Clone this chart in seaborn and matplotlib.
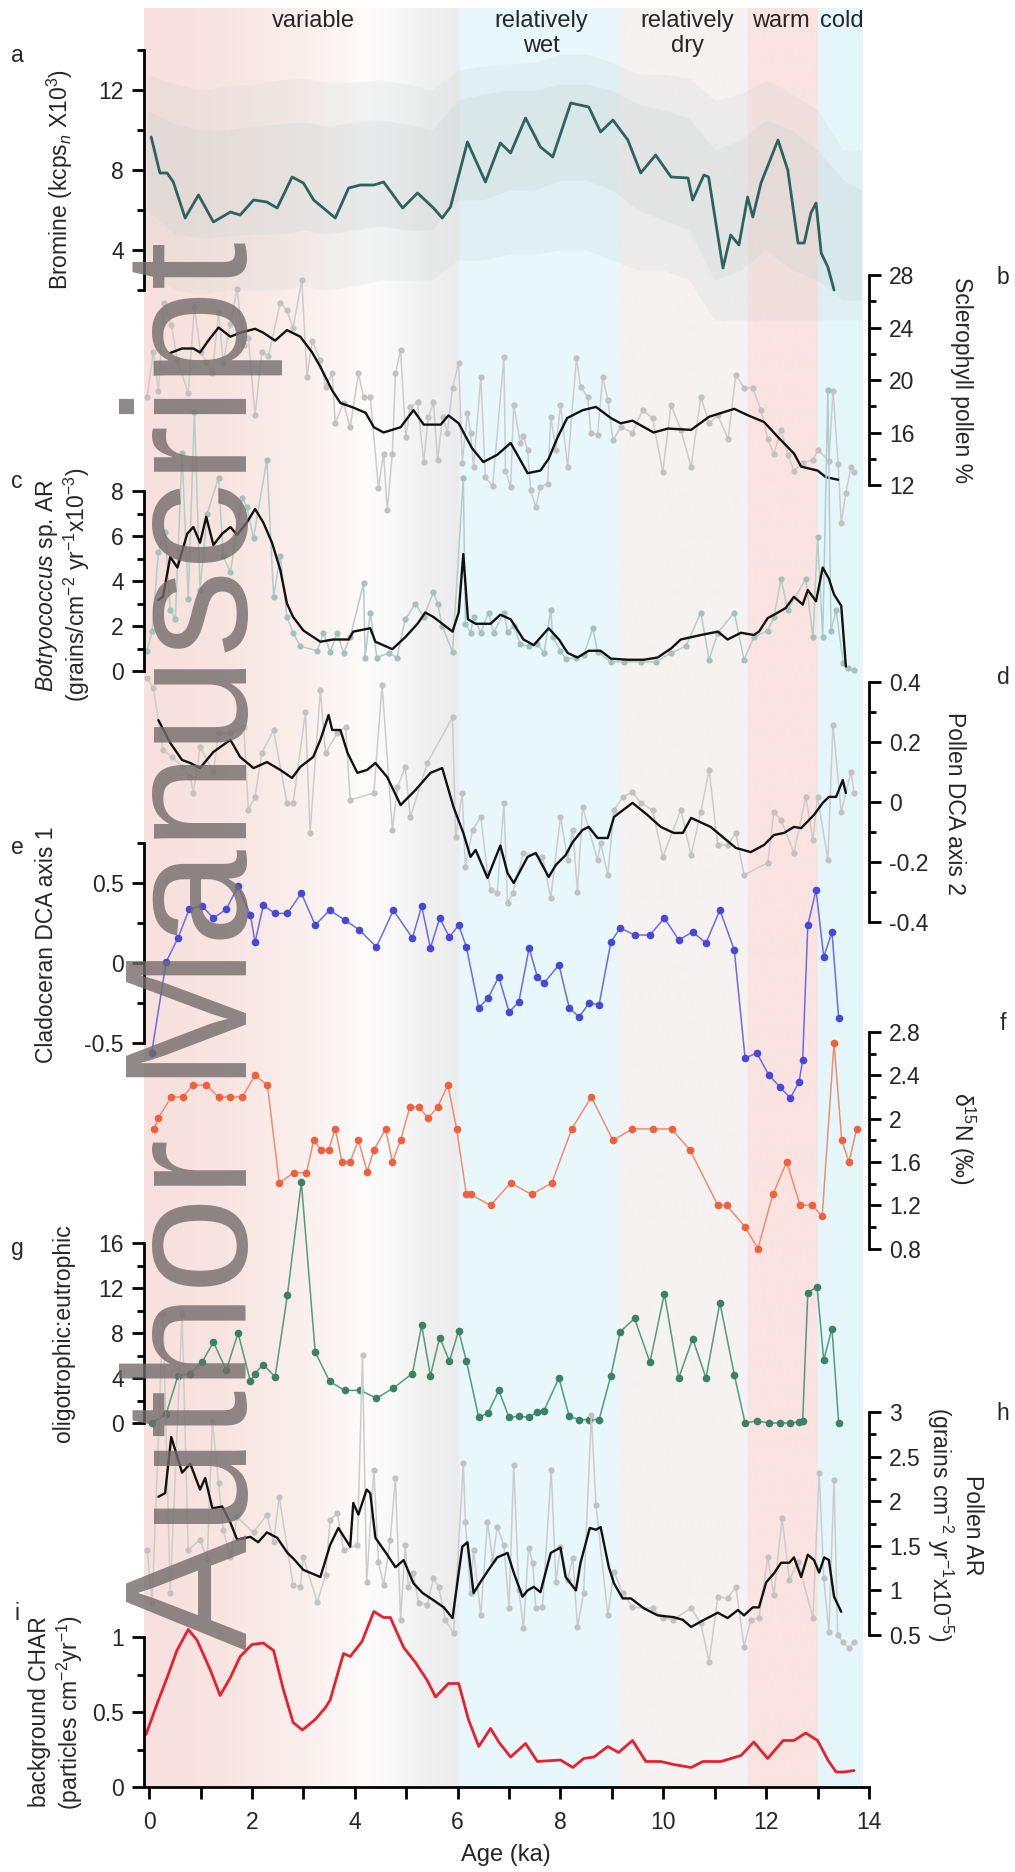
import numpy as np
import seaborn as sns
import matplotlib.pyplot as plt

sns.set_theme(style="white")
plt.rcParams['font.family'] = ['Liberation Sans', 'DejaVu Sans']
plt.rcParams['mathtext.fontset'] = 'custom'
plt.rcParams['mathtext.rm'] = 'Liberation Sans'
plt.rcParams['mathtext.it'] = 'Liberation Sans:italic'

# ---------------- data (age in ka) ----------------
bromine_age = [0.04, 0.21, 0.35, 0.47, 0.70, 0.96, 1.25, 1.58, 1.77, 2.03, 2.29, 2.49, 2.78, 3.0, 3.2, 3.62,
               3.88, 4.11, 4.37, 4.56, 4.93, 5.22, 5.53, 5.70, 5.86, 6.19, 6.54, 6.83, 7.03, 7.32, 7.61, 7.85,
               8.2, 8.55, 8.78, 9.02, 9.31, 9.56, 9.85, 10.15, 10.48, 10.57, 10.79, 10.88, 11.16, 11.31, 11.47,
               11.64, 11.74, 11.9, 12.23, 12.42, 12.62, 12.74, 12.87, 12.97, 13.07, 13.2, 13.32]
bromine = [9.65, 7.85, 7.85, 7.4, 5.6, 6.75, 5.4, 5.9, 5.75, 6.5, 6.4, 6.1, 7.65, 7.35, 6.5, 5.6,
           7.1, 7.25, 7.25, 7.4, 6.1, 6.85, 6.1, 5.6, 6.15, 9.4, 7.4, 9.35, 8.85, 10.6, 9.15, 8.65,
           11.35, 11.15, 9.9, 10.5, 9.5, 7.85, 8.75, 7.65, 7.6, 6.5, 7.75, 7.65, 3.1, 4.75, 4.25,
           6.65, 5.65, 7.35, 9.5, 8.0, 4.35, 4.35, 5.85, 6.35, 3.85, 3.15, 2.0]
# raw bromine scan: outer and inner envelopes of the noisy record
bromine_raw_age = [-0.05, 0.5, 1, 1.5, 2, 2.5, 3, 3.5, 4, 4.5, 5, 5.5, 6, 6.5, 7, 7.5, 8, 8.5, 9, 9.5,
                   10, 10.5, 11, 11.5, 12, 12.5, 13, 13.5, 13.85]
bromine_raw_hi = [12.8, 12.3, 12.0, 12.2, 12.3, 12.5, 12.6, 12.4, 12.4, 12.5, 12.3, 12.0, 13.0, 13.2, 13.3,
                  13.4, 13.8, 13.8, 13.4, 12.8, 12.8, 12.6, 11.5, 11.8, 12.5, 11.8, 11.0, 9.0, 9.0]
bromine_raw_lo = [3.0, 2.0, 1.8, 2.0, 2.0, 2.0, 2.2, 2.0, 2.2, 2.5, 2.5, 2.5, 3.5, 3.5, 3.8, 3.8, 4.0, 4.0,
                  3.5, 3.0, 3.0, 2.5, 0.5, 0.5, 0.5, 0.5, 0.5, 0.5, 0.5]
bromine_core_hi = [11.0, 10.3, 10.0, 10.0, 10.2, 10.3, 10.4, 10.2, 10.4, 10.5, 10.3, 10.0, 11.5, 11.8, 12.0,
                   12.0, 12.3, 12.3, 12.0, 11.3, 11.0, 10.6, 9.0, 9.5, 10.5, 10.0, 9.0, 7.5, 7.0]
bromine_core_lo = [6.0, 4.8, 4.6, 4.7, 4.8, 4.8, 5.0, 4.8, 5.0, 5.2, 5.0, 5.0, 6.5, 6.5, 7.0, 7.0, 7.5, 7.5,
                   7.0, 6.0, 5.5, 5.0, 2.5, 3.0, 4.0, 3.0, 2.5, 1.5, 1.5]

scler_age = [0.41, 0.64, 0.86, 0.99, 1.15, 1.35, 1.58, 1.77, 2.06, 2.22, 2.45, 2.68, 2.94, 3.17, 3.33, 3.56,
             3.72, 3.97, 4.21, 4.37, 4.56, 4.89, 5.14, 5.34, 5.67, 5.82, 6.02, 6.28, 6.5, 6.77, 7.03, 7.19,
             7.36, 7.61, 7.77, 7.94, 8.13, 8.43, 8.69, 8.98, 9.17, 9.4, 9.81, 10.09, 10.54, 10.89, 11.38,
             11.65, 11.96, 12.23, 12.54, 12.68, 13.0, 13.16, 13.4]
scler = [22.06, 22.4, 22.4, 22.1, 23.0, 24.0, 23.3, 23.6, 23.9, 23.6, 23.0, 23.8, 23.3, 22.1, 21.0, 19.2,
         18.25, 17.9, 17.5, 16.4, 16.0, 16.4, 17.7, 16.6, 16.6, 17.3, 16.7, 14.8, 13.75, 14.3, 15.2, 14.1,
         12.9, 13.1, 14.0, 15.6, 17.1, 17.7, 17.95, 17.1, 16.7, 16.9, 16.0, 16.3, 16.2, 17.2, 17.8,
         17.3, 16.8, 15.65, 14.4, 13.4, 13.1, 12.6, 12.4]
scler_raw_age = [-0.04, 0.08, 0.18, 0.29, 0.43, 0.55, 0.76, 0.88, 1.0, 1.11, 1.23, 1.35, 1.44, 1.58, 1.71,
                 1.84, 1.93, 2.06, 2.19, 2.32, 2.55, 2.68, 2.8, 2.97, 3.07, 3.17, 3.33, 3.43, 3.56, 3.62,
                 3.78, 3.91, 4.07, 4.17, 4.3, 4.46, 4.56, 4.63, 4.73, 4.79, 4.89, 4.99, 5.08, 5.22, 5.34,
                 5.43, 5.53, 5.61, 5.71, 5.8, 5.9, 6.02, 6.09, 6.19, 6.25, 6.31, 6.45, 6.54, 6.68, 6.9,
                 6.93, 7.03, 7.09, 7.22, 7.28, 7.36, 7.42, 7.52, 7.61, 7.75, 7.81, 7.91, 8.0, 8.14, 8.31,
                 8.39, 8.53, 8.59, 8.72, 8.82, 8.92, 9.02, 9.17, 9.4, 9.6, 9.79, 9.99, 10.15, 10.34, 10.54,
                 10.73, 10.89, 11.06, 11.26, 11.41, 11.57, 11.74, 11.9, 12.03, 12.15, 12.29, 12.42, 12.54,
                 12.72, 12.91, 13.01, 13.22, 13.3, 13.4, 13.46, 13.55, 13.65, 13.71]
scler_raw = [18.7, 22.1, 19.2, 25.9, 24.2, 21.5, 19.0, 25.6, 22.1, 21.4, 20.5, 25.2, 21.3, 24.3, 26.9,
             22.7, 23.2, 17.3, 22.1, 21.8, 25.9, 25.3, 24.0, 27.6, 20.2, 23.0, 21.5, 19.5, 20.5, 16.7,
             18.25, 16.4, 20.5, 18.7, 18.7, 11.8, 14.4, 10.1, 14.4, 20.5, 22.3, 15.65, 17.95, 18.3, 13.75,
             17.2, 18.3, 13.9, 17.2, 16.0, 19.4, 21.3, 13.7, 17.5, 16.0, 13.4, 20.2, 12.6, 11.9, 21.75,
             13.1, 11.85, 18.1, 15.2, 15.7, 14.7, 11.6, 10.3, 11.85, 12.1, 17.2, 14.7, 18.1, 13.4, 21.7,
             19.5, 18.7, 16.0, 15.8, 20.2, 18.5, 15.4, 16.4, 16.0, 17.7, 17.1, 13.0, 18.1, 16.2, 13.4,
             18.7, 16.7, 17.3, 15.5, 20.4, 19.4, 19.4, 17.7, 15.5, 14.4, 16.2, 14.3, 13.1,
             13.7, 13.9, 14.7, 13.8, 19.2, 13.6, 9.1, 11.4, 13.4, 13.0]

botryo_age = [0.18, 0.27, 0.41, 0.55, 0.74, 0.86, 0.99, 1.11, 1.25, 1.42, 1.58, 1.71, 1.9, 2.06, 2.22, 2.39,
              2.55, 2.68, 2.8, 3.0, 3.33, 3.58, 3.88, 3.97, 4.3, 4.4, 4.73, 4.98, 5.22, 5.37, 5.53, 5.9,
              6.02, 6.11, 6.2, 6.35, 6.64, 6.83, 7.03, 7.28, 7.48, 7.77, 7.97, 8.14, 8.33, 8.55, 8.78,
              8.98, 9.31, 9.62, 9.89, 10.15, 10.34, 10.73, 11.06, 11.25, 11.51, 11.76, 11.86, 12.03,
              12.23, 12.38, 12.54, 12.71, 12.81, 12.97, 13.1, 13.22, 13.32, 13.46, 13.55]
botryo = [3.16, 3.3, 5.07, 4.6, 6.1, 6.4, 5.7, 6.85, 5.6, 6.1, 6.4, 6.05, 6.6, 7.2, 6.6, 5.7,
          4.5, 3.0, 2.4, 1.8, 1.3, 1.4, 1.4, 1.75, 1.9, 1.3, 0.97, 1.5, 2.1, 2.6, 2.4, 1.75,
          2.6, 5.2, 2.3, 2.1, 2.1, 2.5, 2.3, 1.4, 1.15, 1.9, 1.4, 0.8, 0.6, 0.9, 0.9,
          0.55, 0.5, 0.5, 0.6, 1.0, 1.4, 1.6, 1.75, 1.4, 1.7, 1.6, 1.75, 2.35,
          2.6, 2.8, 3.3, 2.95, 3.6, 3.1, 4.6, 4.1, 3.4, 2.9, 0.2]
botryo_raw_age = [-0.04, 0.06, 0.18, 0.31, 0.41, 0.51, 0.64, 0.76, 0.88, 0.99, 1.13, 1.35, 1.44, 1.58, 1.81,
                  1.9, 2.03, 2.29, 2.42, 2.55, 2.68, 2.8, 2.94, 3.27, 3.39, 3.52, 3.66, 3.78, 3.91, 4.17,
                  4.2, 4.3, 4.43, 4.66, 4.82, 4.98, 5.18, 5.34, 5.53, 5.61, 5.7, 5.9, 6.11, 6.15, 6.25,
                  6.31, 6.45, 6.6, 6.7, 6.9, 6.97, 7.09, 7.22, 7.38, 7.55, 7.68, 7.81, 7.85, 8.0, 8.1,
                  8.3, 8.45, 8.63, 8.72, 8.98, 9.23, 9.56, 9.85, 10.15, 10.44, 10.73, 10.89, 11.06,
                  11.38, 11.57, 11.76, 12.03, 12.15, 12.29, 12.42, 12.77, 12.91, 13.0, 13.1, 13.2,
                  13.26, 13.36, 13.5, 13.6, 13.7]
botryo_raw = [0.9, 1.8, 5.3, 6.2, 2.7, 2.3, 9.7, 3.2, 11.5, 3.6, 7.0, 8.6, 5.1, 4.4, 7.7,
              7.3, 5.9, 9.4, 3.3, 5.1, 2.4, 1.7, 1.1, 0.9, 1.7, 0.85, 1.7, 0.8, 1.5, 3.9,
              0.6, 2.6, 0.6, 0.8, 0.6, 2.3, 3.0, 2.4, 3.5, 3.0, 2.0, 0.85, 8.6, 2.1, 1.7,
              2.4, 1.7, 2.6, 1.7, 2.6, 1.75, 2.0, 1.2, 1.1, 1.2, 0.8, 2.7, 1.5, 0.9, 0.55,
              0.6, 0.7, 1.9, 0.85, 0.4, 0.4, 0.4, 0.4, 0.8, 1.1, 2.6, 0.5, 1.7,
              2.6, 0.5, 1.5, 1.8, 2.4, 4.1, 2.7, 4.1, 1.5, 5.95, 1.5, 12.5,
              1.8, 2.7, 0.35, 0.15, 0.05]

dca2_age = [0.18, 0.41, 0.64, 0.8, 0.99, 1.25, 1.58, 1.77, 2.03, 2.29, 2.55, 2.78, 2.94, 3.19, 3.33, 3.49,
            3.56, 3.72, 3.86, 4.05, 4.24, 4.4, 4.63, 4.89, 5.18, 5.47, 5.7, 5.92, 6.11, 6.25, 6.35, 6.58,
            6.83, 6.97, 7.09, 7.36, 7.52, 7.77, 7.91, 8.1, 8.24, 8.43, 8.55, 8.72, 8.92, 9.04, 9.4,
            9.69, 9.95, 10.2, 10.38, 10.54, 10.92, 11.41, 11.7, 11.96, 12.15, 12.35, 12.54, 12.68,
            12.93, 13.1, 13.22, 13.36, 13.49, 13.55]
dca2 = [0.273, 0.197, 0.14, 0.13, 0.113, 0.167, 0.207, 0.15, 0.113, 0.133, 0.107, 0.08, 0.117, 0.15, 0.207,
        0.29, 0.24, 0.24, 0.163, 0.097, 0.107, 0.13, 0.083, -0.01, 0.04, 0.097, 0.113, -0.017, -0.103,
        -0.183, -0.16, -0.253, -0.145, -0.237, -0.27, -0.183, -0.17, -0.25, -0.21, -0.177, -0.133,
        -0.093, -0.083, -0.12, -0.12, -0.05, -0.003, -0.043, -0.083, -0.103, -0.103, -0.053, -0.083,
        -0.153, -0.167, -0.143, -0.11, -0.103, -0.083, -0.087, -0.043, -0.003, 0.017, 0.017, 0.073, 0.03]
dca2_raw_age = [-0.04, 0.08, 0.27, 0.45, 0.64, 0.8, 0.86, 0.99, 1.25, 1.35, 1.58, 1.84, 1.93, 2.06, 2.19,
                2.42, 2.68, 2.8, 3.04, 3.13, 3.33, 3.43, 3.66, 3.82, 3.91, 4.37, 4.53, 4.73, 4.83, 4.98,
                5.08, 5.41, 5.9, 5.96, 6.09, 6.15, 6.29, 6.45, 6.58, 6.64, 6.77, 6.9, 6.97, 7.07, 7.28,
                7.65, 7.81, 8.0, 8.14, 8.24, 8.33, 8.43, 8.72, 8.78, 8.92, 9.04, 9.21, 9.4, 9.56, 9.79,
                9.99, 10.34, 10.54, 10.73, 10.89, 11.06, 11.25, 11.41, 11.57, 12.03, 12.15, 12.29,
                12.54, 12.77, 12.91, 13.0, 13.2, 13.3, 13.46, 13.65, 13.71]
dca2_raw = [0.413, 0.38, 0.173, 0.15, 0.117, 0.083, 0.03, 0.183, 0.1, 0.23, 0.23, 0.25, -0.027, 0.017, 0.163,
            0.24, -0.003, -0.003, 0.3, -0.103, 0.373, 0.163, 0.23, 0.25, 0.007, 0.03, 0.39, -0.093, 0.05,
            0.117, -0.05, 0.13, 0.283, -0.117, 0.03, -0.217, -0.093, -0.05, -0.237, -0.293, -0.303,
            -0.003, -0.337, -0.303, -0.17, -0.183, -0.32, -0.05, -0.193, -0.093, -0.3, -0.017, -0.193,
            -0.137, -0.243, -0.027, 0.017, 0.033, -0.003, -0.027, -0.183, -0.027, -0.177, -0.033, 0.107,
            -0.143, -0.143, -0.103, -0.243, -0.203, -0.033, -0.06, -0.17, 0.017, -0.127, 0.017, -0.193,
            0.257, -0.033, 0.1, 0.03]

clad_age = [0.05, 0.33, 0.56, 0.78, 1.03, 1.25, 1.5, 1.73, 1.97, 2.06, 2.22, 2.45, 2.69, 2.96, 3.23, 3.51,
            3.8, 4.09, 4.42, 4.75, 5.12, 5.3, 5.47, 5.65, 5.84, 6.02, 6.17, 6.41, 6.59, 6.8, 7.0, 7.19,
            7.39, 7.55, 7.68, 7.97, 8.17, 8.36, 8.56, 8.75, 8.98, 9.16, 9.44, 9.74, 10.02, 10.3, 10.57,
            10.83, 11.1, 11.38, 11.59, 11.82, 12.05, 12.27, 12.47, 12.64, 12.71, 12.81, 12.97, 13.12,
            13.28, 13.41]
clad = [-0.56, 0.006, 0.156, 0.337, 0.356, 0.28, 0.337, 0.48, 0.3, 0.13, 0.36, 0.31, 0.31, 0.437, 0.237, 0.33,
        0.27, 0.206, 0.1, 0.33, 0.156, 0.356, 0.094, 0.28, 0.162, 0.237, 0.1, -0.28, -0.22, -0.087, -0.306,
        -0.244, 0.094, -0.087, -0.125, -0.012, -0.28, -0.337, -0.25, -0.262, 0.131, 0.219, 0.175, 0.175,
        0.281, 0.144, 0.194, 0.125, 0.331, 0.081, -0.594, -0.563, -0.7, -0.775, -0.844, -0.744, -0.606,
        0.237, 0.456, 0.038, 0.194, -0.344]

d15n_age = [0.1, 0.18, 0.43, 0.65, 0.86, 1.11, 1.35, 1.58, 1.81, 2.06, 2.3, 2.53, 2.81, 3.06, 3.2, 3.35,
            3.49, 3.62, 3.75, 3.91, 4.07, 4.24, 4.37, 4.6, 4.73, 4.89, 5.07, 5.24, 5.43, 5.61, 5.81, 5.98,
            6.17, 6.25, 6.64, 7.03, 7.44, 7.83, 8.22, 8.6, 9.02, 9.4, 9.79, 10.16, 10.52, 11.06, 11.23,
            11.59, 11.84, 12.13, 12.4, 12.66, 12.89, 13.09, 13.32, 13.47, 13.61, 13.76]
d15n = [1.905, 2.006, 2.2, 2.2, 2.31, 2.31, 2.2, 2.2, 2.2, 2.4, 2.31, 1.406, 1.5, 1.5, 1.8, 1.71,
        1.71, 1.905, 1.6, 1.6, 1.8, 1.51, 1.71, 1.905, 1.6, 1.8, 2.107, 2.107, 2.006, 2.107, 2.31, 1.905,
        1.3, 1.3, 1.2, 1.406, 1.3, 1.406, 1.905, 2.2, 1.8, 1.905, 1.905, 1.905, 1.71, 1.2, 1.2,
        1.0, 0.8, 1.3, 1.6, 1.2, 1.2, 1.1, 2.7, 1.8, 1.6, 1.905]

oligo_age = [0.05, 0.33, 0.56, 0.8, 1.03, 1.25, 1.5, 1.73, 1.97, 2.06, 2.22, 2.45, 2.69, 2.96, 3.23,
             3.51, 3.8, 4.11, 4.42, 4.75, 5.12, 5.3, 5.47, 5.65, 5.84, 6.02, 6.17, 6.41, 6.59,
             6.8, 7.0, 7.19, 7.39, 7.55, 7.68, 7.97, 8.17, 8.36, 8.56, 8.75, 8.98, 9.16,
             9.44, 9.74, 10.02, 10.3, 10.57, 10.83, 11.1, 11.38, 11.59, 11.82, 12.05,
             12.27, 12.47, 12.64, 12.71, 12.81, 12.99, 13.12, 13.28, 13.41]
oligo = [0.0, 0.8, 4.2, 4.4, 5.4, 7.2, 4.7, 8.0, 3.7, 4.4, 5.2, 4.1, 11.4, 21.4, 6.3,
         3.7, 2.9, 2.9, 2.2, 3.1, 4.4, 8.7, 4.2, 7.6, 5.5, 8.2, 5.5, 0.5, 0.9,
         2.9, 0.5, 0.6, 0.5, 1.0, 1.1, 4.0, 0.6, 0.3, 0.3, 0.3, 4.2, 8.1,
         9.3, 5.4, 11.5, 4.0, 7.5, 4.0, 10.7, 4.3, 0.0, 0.2, 0.0,
         0.0, 0.0, 0.1, 0.2, 11.6, 12.1, 5.6, 8.4, 0.0]

pollen_ar_age = [0.18, 0.31, 0.43, 0.64, 0.8, 0.99, 1.09, 1.23, 1.42, 1.58, 1.71, 1.97, 2.12, 2.29, 2.49,
                 2.69, 2.8, 3.0, 3.33, 3.52, 3.68, 3.91, 3.97, 4.07, 4.23, 4.3, 4.4, 4.63, 4.79, 4.95,
                 5.14, 5.32, 5.53, 5.73, 5.9, 6.09, 6.19, 6.31, 6.45, 6.6, 6.77, 6.97, 7.09, 7.26, 7.36,
                 7.48, 7.61, 7.81, 8.0, 8.1, 8.3, 8.39, 8.57, 8.69, 8.78, 8.94, 9.04, 9.21, 9.37, 9.62,
                 9.89, 10.2, 10.38, 10.54, 10.79, 11.06, 11.25, 11.45, 11.57, 11.74, 11.86, 12.0, 12.15,
                 12.29, 12.45, 12.54, 12.68, 12.81, 12.93, 13.03, 13.13, 13.22, 13.32, 13.46]
pollen_ar = [2.05, 2.09, 2.72, 2.32, 2.42, 2.13, 2.26, 1.92, 1.94, 1.76, 1.57, 1.6, 1.54, 1.65, 1.59,
             1.42, 1.36, 1.23, 1.15, 1.51, 1.7, 1.49, 1.98, 1.85, 2.13, 2.09, 1.59, 1.4, 1.26, 1.34,
             1.08, 0.97, 0.89, 0.81, 0.69, 1.49, 1.54, 0.97, 1.1, 1.23, 1.37, 1.42, 1.2, 0.93, 1.0,
             1.04, 0.98, 1.42, 1.48, 1.15, 1.0, 1.31, 1.7, 1.68, 1.71, 1.26, 1.08, 0.91, 0.91, 0.8,
             0.72, 0.7, 0.67, 0.59, 0.67, 0.75, 0.69, 0.78, 0.72, 0.81, 0.81, 1.09, 1.19,
             1.31, 1.31, 1.37, 1.15, 1.4, 1.34, 1.2, 1.37, 1.34, 0.93, 0.76]
pollen_ar_raw_age = [-0.04, 0.06, 0.27, 0.41, 0.64, 0.76, 0.99, 1.13, 1.23, 1.35, 1.44, 1.58, 1.71, 2.03,
                     2.29, 2.42, 2.53, 2.8, 2.94, 3.0, 3.27, 3.43, 3.52, 3.66, 3.78, 4.05, 4.15, 4.23,
                     4.37, 4.46, 4.56, 4.69, 4.79, 4.89, 4.98, 5.04, 5.14, 5.24, 5.41, 5.53, 5.63, 5.76,
                     5.92, 6.11, 6.15, 6.25, 6.31, 6.45, 6.58, 6.68, 6.77, 6.9, 7.0, 7.09, 7.19, 7.28,
                     7.38, 7.46, 7.52, 7.65, 7.82, 7.91, 8.0, 8.14, 8.24, 8.33, 8.45, 8.6, 8.69, 8.92,
                     9.04, 9.21, 9.4, 9.79, 9.99, 10.18, 10.54, 10.73, 10.89, 11.06, 11.25, 11.41, 11.57,
                     11.7, 11.86, 12.03, 12.15, 12.31, 12.45, 12.62, 12.91, 13.03, 13.12, 13.22, 13.32,
                     13.39, 13.49, 13.61, 13.71]
pollen_ar_raw = [1.45, 0.86, 4.1, 0.97, 4.1, 1.45, 1.57, 1.34, 2.9, 2.2, 1.68, 1.37, 1.82, 1.65,
                 1.85, 1.54, 2.05, 1.06, 1.04, 1.37, 0.87, 1.17, 1.79, 1.87, 1.45, 1.51, 3.64, 1.09,
                 2.35, 1.32, 1.06, 1.57, 2.26, 0.67, 1.51, 1.04, 1.19, 0.86, 0.84, 1.14, 1.04, 0.67,
                 0.52, 2.43, 1.77, 0.97, 1.45, 0.72, 1.77, 1.34, 1.71, 1.51, 0.8, 2.41, 1.0, 0.58,
                 1.48, 1.31, 0.8, 0.81, 2.35, 1.09, 1.49, 1.12, 1.36, 0.59, 0.97, 2.97, 1.96, 0.72,
                 1.21, 0.97, 0.81, 0.8, 0.69, 0.67, 0.8, 0.63, 0.2, 0.93, 0.91, 1.04, 0.37,
                 0.67, 0.69, 1.37, 0.95, 1.81, 1.12, 1.32, 0.69, 2.32, 1.14, 0.53, 2.24,
                 0.5, 0.42, 0.35, 0.42]

char_age = [-0.06, 0.16, 0.35, 0.54, 0.76, 0.93, 1.19, 1.38, 1.58, 1.77, 2.0, 2.22, 2.42, 2.61, 2.8, 2.98,
            3.23, 3.43, 3.52, 3.78, 3.91, 4.14, 4.37, 4.56, 4.69, 4.95, 5.18, 5.41, 5.57, 5.82, 6.02, 6.21,
            6.41, 6.64, 6.8, 7.03, 7.32, 7.55, 8.0, 8.24, 8.45, 8.65, 8.92, 9.13, 9.4, 9.66, 9.95, 10.2,
            10.54, 10.77, 11.12, 11.51, 11.76, 12.03, 12.33, 12.54, 12.77, 13.0, 13.2, 13.36, 13.51, 13.71]
char = [0.35, 0.56, 0.73, 0.91, 1.05, 0.98, 0.78, 0.61, 0.73, 0.87, 0.95, 0.96, 0.91, 0.65, 0.43, 0.38,
        0.45, 0.53, 0.58, 0.89, 0.87, 0.97, 1.17, 1.13, 1.13, 0.93, 0.83, 0.71, 0.6, 0.69, 0.69, 0.45,
        0.27, 0.39, 0.3, 0.2, 0.29, 0.17, 0.18, 0.13, 0.19, 0.2, 0.27, 0.23, 0.31, 0.17, 0.17, 0.15,
        0.13, 0.17, 0.17, 0.21, 0.3, 0.19, 0.31, 0.31, 0.36, 0.31, 0.18, 0.1, 0.1, 0.11]

zone_names = ["variable", "relatively\nwet", "relatively\ndry", "warm", "cold"]
zone_label_px = [313, 541, 687, 781, 842]

# ---------------- layout ----------------
W, H = 1015, 1872
X0, X1 = 144, 869          # pixel x of age -0.1 and 14
fig = plt.figure(figsize=(W / 100, H / 100), dpi=100)
FS = 16.5


def fx(x):
    return x / W


def fy(y):
    return 1 - y / H


# background climate zones
bg = fig.add_axes([fx(X0), fy(1788), fx(X1 - X0), (1788 - 8) / H])
bg.set_xlim(-0.1, 14)
bg.set_ylim(0, 1)
bg.axis('off')
stops = [-0.1, 1.5, 3.0, 4.2, 4.8, 5.4, 6.03, 6.04, 9.12, 9.13, 11.64, 11.65, 13.0, 13.01, 13.88]
cols = np.array([(247, 224, 221), (248, 229, 226), (250, 239, 237), (253, 251, 251), (249, 248, 248),
                 (241, 240, 240), (237, 236, 236), (231, 247, 251), (232, 248, 252), (246, 242, 242),
                 (246, 242, 242), (250, 227, 225), (250, 227, 225), (228, 246, 250), (230, 247, 251)]) / 255
gx = np.linspace(-0.1, 13.88, 1400)
img = np.stack([np.interp(gx, stops, cols[:, c]) for c in range(3)], axis=-1)[None, :, :]
bg.imshow(img, extent=(-0.1, 13.88, 0, 1), aspect='auto', interpolation='bilinear')


def panel(v0, p0, k, side, bounds, major, labels, minor):
    ax = fig.add_axes([fx(X0), 0, fx(X1 - X0), 1])
    ax.patch.set_alpha(0)
    ax.set_xlim(-0.1, 14)
    ax.set_ylim(v0 - (H - p0) / k, v0 + p0 / k)
    for s in ax.spines.values():
        s.set_visible(False)
    sp = ax.spines[side]
    sp.set_visible(True)
    sp.set_bounds(*bounds)
    sp.set_linewidth(2)
    sp.set_color('black')
    ax.set_yticks(major, labels)
    ax.set_yticks(minor, minor=True)
    left = side == 'left'
    ax.tick_params(axis='y', which='both', left=left, right=not left, labelleft=left, labelright=not left,
                   direction='out', width=2, color='black')
    ax.tick_params(axis='y', which='major', length=8.5, labelsize=FS, pad=6)
    ax.tick_params(axis='y', which='minor', length=5)
    ax.set_xticks([])
    ax.grid(False)
    return ax


def smooth(ax, x, y, color='#111111', lw=1.7):
    sns.lineplot(x=x, y=y, ax=ax, color=color, lw=lw, estimator=None, sort=False)


def dots(ax, x, y, lc, mc, lw=1.1, ms=5.5):
    sns.lineplot(x=x, y=y, ax=ax, color=lc, lw=lw, marker='o', markersize=ms, markerfacecolor=mc,
                 markeredgewidth=0, estimator=None, sort=False)


ax_a = panel(14, 50, 20, 'left', (2, 14), [4, 8, 12], ['4', '8', '12'], [2, 6, 10, 14])
ax_a.fill_between(bromine_raw_age, bromine_raw_lo, bromine_raw_hi, color='#c3cfcd', alpha=0.18, lw=0)
ax_a.fill_between(bromine_raw_age, bromine_core_lo, bromine_core_hi, color='#c3cfcd', alpha=0.22, lw=0)
smooth(ax_a, bromine_age, bromine, color='#2d625e', lw=2.0)

ax_b = panel(28, 275, 13.125, 'right', (12, 28), [12, 16, 20, 24, 28], ['12', '16', '20', '24', '28'],
             [14, 18, 22, 26])
dots(ax_b, scler_raw_age, scler_raw, '#cccccc', '#c2c2c2', ms=4.5)
smooth(ax_b, scler_age, scler)

ax_c = panel(8, 491, 22.5, 'left', (0, 8), [0, 2, 4, 6, 8], ['0', '2', '4', '6', '8'], [1, 3, 5, 7])
dots(ax_c, botryo_raw_age, botryo_raw, '#b3cdc8', '#a3c2bc', ms=4.5)
smooth(ax_c, botryo_age, botryo)

ax_d = panel(0.4, 682, 300, 'right', (-0.4, 0.4), [-0.4, -0.2, 0, 0.2, 0.4],
             ['-0.4', '-0.2', '0', '0.2', '0.4'], [-0.3, -0.1, 0.1, 0.3])
dots(ax_d, dca2_raw_age, dca2_raw, '#cccccc', '#c2c2c2', ms=4.5)
smooth(ax_d, dca2_age, dca2)

ax_e = panel(0.5, 883, 160, 'left', (-0.5, 0.75), [-0.5, 0, 0.5], ['-0.5', '0', '0.5'], [-0.25, 0.25, 0.75])
dots(ax_e, clad_age, clad, '#6c6ce2', '#4848d8')

ax_f = panel(2.8, 1032, 108.3, 'right', (0.8, 2.8), [0.8, 1.2, 1.6, 2.0, 2.4, 2.8],
             ['0.8', '1.2', '1.6', '2', '2.4', '2.8'], [1.0, 1.4, 1.8, 2.2, 2.6])
dots(ax_f, d15n_age, d15n, '#f08c70', '#f0603c')

ax_g = panel(16, 1243, 11.25, 'left', (0, 16), [0, 4, 8, 12, 16], ['0', '4', '8', '12', '16'], [2, 6, 10, 14])
dots(ax_g, oligo_age, oligo, '#569a7e', '#3b8164')

ax_h = panel(3, 1412, 89.2, 'right', (0.5, 3), [0.5, 1, 1.5, 2, 2.5, 3],
             ['0.5', '1', '1.5', '2', '2.5', '3'], [0.75, 1.25, 1.75, 2.25, 2.75])
dots(ax_h, pollen_ar_raw_age, pollen_ar_raw, '#cccccc', '#c2c2c2', ms=4.5)
smooth(ax_h, pollen_ar_age, pollen_ar)

ax_i = panel(1, 1637, 150, 'left', (0, 1), [0, 0.5, 1], ['0', '0.5', '1'], [0.25, 0.75])
smooth(ax_i, char_age, char, color='#e8202e', lw=2.0)
ax_i.spines['bottom'].set_visible(True)
ax_i.spines['bottom'].set_position(('data', 0))
ax_i.spines['bottom'].set_bounds(-0.1, 14)
ax_i.spines['bottom'].set_linewidth(2)
ax_i.spines['bottom'].set_color('black')
ax_i.set_xticks(range(0, 15, 2))
ax_i.set_xticks(range(1, 14, 2), minor=True)
ax_i.tick_params(axis='x', which='both', bottom=True, direction='out', length=8.5, width=2,
                 labelsize=FS, pad=9, color='black')

# ---------------- text ----------------
for name, px in zip(zone_names, zone_label_px):
    fig.text(fx(px), fy(10), name, ha='center', va='top', fontsize=17, linespacing=1.15)

labels = [
    (60, 180, 90, r"Bromine (kcps$_n$ X10$^3$)"),
    (962, 380, 270, "Sclerophyll pollen %"),
    (47, 585, 90, r"$\mathit{Botryococcus}$ sp. AR"),
    (77, 585, 90, r"(grains/cm$^{-2}$ yr$^{-1}$x10$^{-3}$)"),
    (955, 803, 270, "Pollen DCA axis 2"),
    (47, 945, 90, "Cladoceran DCA axis 1"),
    (962, 1138, 270, r"δ$^{15}$N (‰)"),
    (63, 1333, 90, "oligotrophic:eutrophic"),
    (972, 1525, 270, "Pollen AR"),
    (940, 1524, 270, r"(grains cm$^{-2}$ yr$^{-1}$x10$^{-5}$)"),
    (40, 1712, 90, "background CHAR"),
    (70, 1712, 90, r"(particles cm$^{-2}$yr$^{-1}$)"),
]
for x, y, rot, t in labels:
    fig.text(fx(x), fy(y), t, rotation=rot, ha='center', va='center', fontsize=FS)

letters = [("a", 17, 55), ("b", 1003, 277), ("c", 17, 482), ("d", 1003, 677), ("e", 17, 847),
           ("f", 1003, 1023), ("g", 17, 1248), ("h", 1003, 1413), ("i", 17, 1613)]
for t, x, y in letters:
    fig.text(fx(x), fy(y), t, ha='center', va='center', fontsize=FS)

fig.text(fx(506), fy(1855), "Age (ka)", ha='center', va='center', fontsize=17)

# watermark
fig.text(fx(247), fy(1650), "Author Manuscript", rotation=90, rotation_mode='anchor', ha='left',
         va='baseline', fontsize=125, color='#736b6b', alpha=0.8, zorder=20)

plt.savefig('out.png', dpi=100)
